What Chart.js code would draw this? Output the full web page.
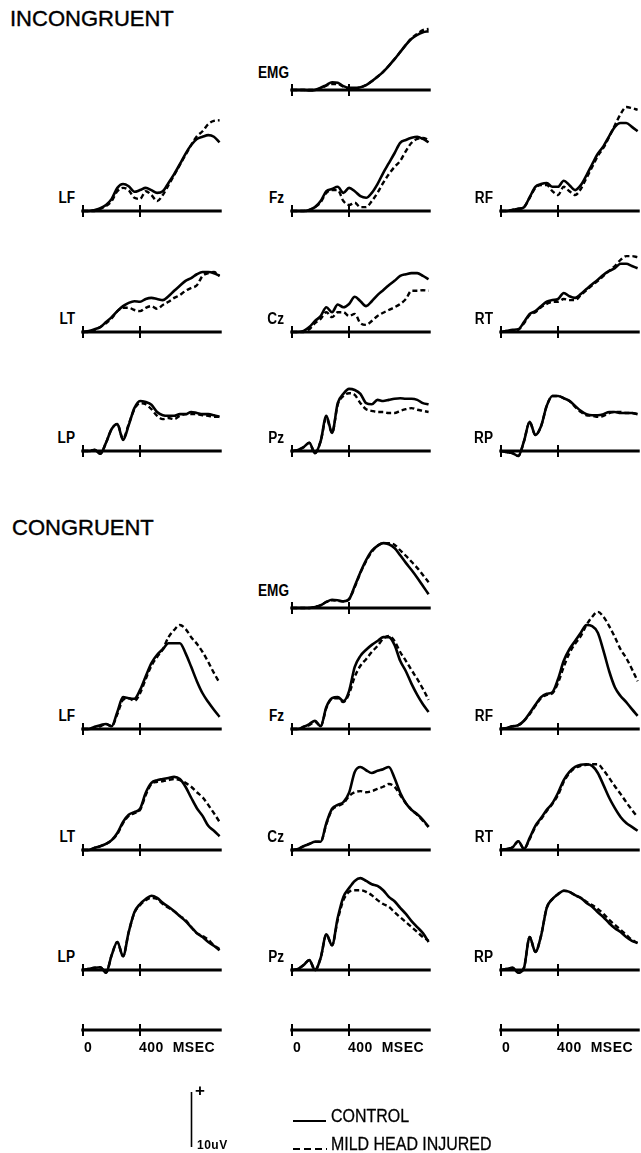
<!DOCTYPE html>
<html>
<head>
<meta charset="utf-8">
<script src="https://cdn.jsdelivr.net/npm/chart.js@4.4.1/dist/chart.umd.min.js"></script>
<style>
    body { margin: 0; background: #fff; }
    #page { position: relative; width: 641px; height: 1153px; overflow: hidden; background: #fff;
            font-family: "Liberation Sans", Arial, sans-serif; color: #000; }
    #page canvas { position: absolute; }
    .title { position: absolute; font-size: 22px; line-height: 22px; white-space: nowrap; -webkit-text-stroke: 0.4px #000; }
    .site { position: absolute; width: 40px; text-align: right; font-weight: bold; font-size: 16px; line-height: 16px;
            transform: scaleX(0.85); transform-origin: right top; white-space: nowrap; }
    .tick { position: absolute; font-weight: bold; font-size: 14px; line-height: 14px; letter-spacing: 0.5px; white-space: pre; }
    .legend { position: absolute; font-size: 19px; line-height: 19px; transform: scaleX(0.84); transform-origin: left top;
              white-space: nowrap; -webkit-text-stroke: 0.3px #000; }
</style>
</head>
<body>
<div id="page"></div>
<script>
// time of each sample, ms after stimulus (shared by every trace)
const timesMs = [0, 40, 80, 120, 160, 200, 240, 280, 320, 360, 400, 440, 480, 520, 560, 600, 640, 680, 720, 760, 800, 840, 880, 920, 960];
const axisTicksMs = [0, 400];
const scaleBarUv = 10;

// INCONGRUENT trials, uV (positive up)
const incEmgControl = [0, 0, 0, -0.1, 0, 0.4, 0.9, 1.4, 1.3, 0.7, 0.4, 0.4, 0.5, 0.9, 1.6, 2.4, 3.3, 4.4, 5.6, 6.9, 8.2, 9.3, 10, 10.5, 10.7];
const incEmgMhi     = [0, 0, 0, 0, 0, 0.3, 0.8, 1.1, 1.1, 0.6, 0.3, 0.3, 0.5, 0.9, 1.6, 2.4, 3.3, 4.4, 5.6, 6.9, 8.2, 9.4, 10.2, 10.9, 11.1];
const incLfControl  = [0, 0, 0.2, 0.5, 1.1, 2.2, 4.2, 4.9, 4.5, 3.5, 3.8, 4.2, 3.8, 3.3, 3.6, 5.1, 6.7, 8.5, 10.4, 12, 13.1, 13.5, 13.8, 13.5, 12.5];
const incLfMhi      = [0, 0, 0, 0.4, 0.9, 1.8, 3.6, 4.2, 3.8, 2.4, 2.2, 3.6, 2.9, 1.8, 2.9, 4.7, 6.5, 8.4, 10.2, 12, 13.6, 14.5, 15.8, 16.4, 16.5];
const incFzControl  = [0, 0, 0, 0.2, 0.7, 1.8, 3.6, 4, 4.4, 3.3, 4.2, 3.6, 2.7, 2.4, 3.3, 4.9, 6.9, 8.7, 10.5, 12.4, 12.9, 13.3, 13.5, 13.1, 12.5];
const incFzMhi      = [0, 0, 0, 0.2, 0.7, 1.6, 3.3, 3.8, 3.8, 1.8, 1.1, 1.5, 0.7, 0.7, 1.8, 3.3, 5.1, 6.7, 8, 9.1, 10.9, 12.4, 13.1, 13.3, 12.9];
const incRfControl  = [0, 0, 0.2, 0.4, 0.7, 2.5, 4.4, 4.9, 5.1, 4.4, 4.4, 5.5, 4.7, 3.8, 4.7, 6.5, 8.5, 10.4, 11.8, 13.6, 15.3, 16, 16, 15.3, 14.5];
const incRfMhi      = [0, 0, 0.2, 0.4, 0.7, 2.4, 4.2, 4.7, 4.7, 3.6, 2.9, 4.4, 3.6, 2.9, 4, 6, 8, 10, 11.5, 13.5, 15.6, 17.6, 18.9, 18.7, 18.4];
const incLtControl  = [0, 0.2, 0.5, 0.9, 1.8, 2.7, 3.8, 4.7, 5.3, 5.6, 5.5, 6, 6.2, 6, 5.8, 6.5, 7.5, 8.4, 9.3, 9.8, 10.5, 10.9, 10.9, 10.7, 10.2];
const incLtMhi      = [0, 0, 0.4, 0.9, 1.6, 2.5, 3.8, 4.4, 4.4, 4, 3.8, 4.4, 4.7, 4.2, 4.9, 5.5, 6.2, 6.7, 7.5, 8, 8.5, 10.2, 10.7, 10.9, 10.2];
const incCzControl  = [0, 0, 0.2, 0.9, 2, 2.9, 4.5, 3.6, 5, 4.5, 5.1, 6.4, 5.6, 4.7, 5.6, 6.7, 7.6, 8.5, 9.3, 10.2, 10.5, 10.7, 10.7, 10.2, 9.6];
const incCzMhi      = [0, 0, 0, 0.5, 1.6, 2.4, 3.6, 2.7, 3.6, 3.6, 2.9, 3.3, 1.6, 1.3, 2, 2.9, 3.5, 4, 4.5, 5.1, 6, 7.5, 7.5, 7.6, 7.5];
const incRtControl  = [0, 0.2, 0.4, 0.5, 1.8, 3.3, 3.8, 4.7, 5.5, 5.8, 6, 7.1, 6.5, 6.2, 6.9, 7.8, 8.7, 9.5, 10.4, 11.1, 11.6, 12.4, 12.4, 12, 11.6];
const incRtMhi      = [0, 0.2, 0.2, 0.4, 1.6, 3.1, 3.6, 4.5, 5.1, 5.5, 5.5, 6, 5.8, 5.8, 6.7, 7.6, 8.5, 9.3, 10.2, 11.1, 12, 13.1, 13.8, 13.8, 13.6];
const incLpControl  = [0, 0, 0.2, -0.5, 1.5, 4, 4.9, 2, 4.7, 7.8, 9.1, 8.9, 8.4, 7.1, 6.5, 6.4, 6.4, 6.7, 6.7, 7.1, 6.9, 6.7, 6.7, 6.5, 6.2];
const incLpMhi      = [0, 0, 0.2, -0.5, 1.5, 4, 4.9, 2.2, 4.9, 7.6, 8.7, 8.5, 7.6, 6.4, 5.8, 6, 5.8, 6.4, 6.7, 6.7, 6.7, 6.5, 6.4, 6.2, 6.2];
const incPzControl  = [0, 0.2, 0.7, 1.5, -0.4, 1.8, 6.4, 3.3, 8.7, 10.4, 11.3, 11.1, 10.4, 8.7, 8.5, 9.3, 9.1, 9.3, 9.5, 9.6, 9.5, 9.5, 9.3, 8.7, 8.5];
const incPzMhi      = [0, 0.2, 0.7, 1.5, -0.4, 1.8, 6, 3.3, 8.4, 10, 10.5, 10.2, 8.7, 7.6, 7.3, 7.1, 7.1, 6.9, 6.9, 7.3, 7.6, 7.8, 7.5, 7.3, 7.1];
const incRpControl  = [0, -0.2, -0.4, -0.9, 1.8, 5.3, 2.9, 4.5, 8.2, 10, 10, 9.6, 9.1, 8.2, 7.3, 6.7, 6.5, 6.5, 6.7, 7.1, 7.1, 6.9, 6.9, 6.9, 6.7];
const incRpMhi      = [0, -0.2, -0.4, -0.9, 1.8, 5.3, 2.9, 4.5, 8.2, 10, 10, 9.6, 9.1, 8, 7.1, 6.5, 6.4, 6.2, 6.4, 6.9, 7.1, 7.1, 6.9, 6.9, 6.7];

// CONGRUENT trials, uV (positive up)
const conEmgControl = [0, 0, 0, 0, 0.2, 0.5, 1.1, 1.5, 1.4, 1.2, 1.6, 4, 6.5, 8.7, 10.4, 11.3, 11.8, 11.6, 10.9, 9.6, 8.2, 6.9, 5.5, 4, 2.5];
const conEmgMhi     = [0, 0, 0, 0, 0.2, 0.5, 1.1, 1.4, 1.3, 1.2, 1.6, 3.8, 6.4, 8.5, 10.2, 11.3, 11.8, 11.8, 11.5, 10.5, 9.5, 8.4, 7.3, 6, 4.7];
const conLfControl  = [0, 0, 0.4, 0.7, 0.9, 0.5, 3.1, 5.8, 5.6, 5.5, 7.1, 9.6, 12, 13.5, 14.5, 15.6, 15.6, 15.6, 13.8, 11.3, 8.7, 6.5, 4.9, 3.5, 2.2];
const conLfMhi      = [0, 0, 0.2, 0.5, 0.9, 0.5, 2.7, 5.3, 5.6, 5.1, 6.5, 9.1, 11.5, 13.1, 14.5, 16.7, 18, 18.9, 18.2, 16.7, 15.5, 14, 12.2, 10.2, 8.4];
const conFzControl  = [0, 0, 0.4, 0.9, 1.5, 0.5, 4, 5.6, 5.8, 5.1, 6.9, 11.3, 13.3, 14.4, 15.3, 16, 16.7, 16.7, 15.3, 12.4, 10.5, 8.2, 6.2, 4.5, 3.1];
const conFzMhi      = [0, 0, 0.4, 0.7, 1.3, 0.5, 3.8, 5.5, 5.6, 4.9, 6.4, 9.5, 11.5, 12.7, 14, 15.1, 16.4, 16.9, 16, 14, 12.4, 10.7, 9.1, 7.3, 5.3];
const conRfControl  = [0, 0.2, 0.5, 0.7, 1.5, 2.9, 4.4, 5.8, 6.4, 6.7, 9.1, 12.4, 14.5, 16, 17.5, 18.9, 18.7, 17.5, 14.2, 10.5, 7.6, 6, 4.9, 3.6, 2.4];
const conRfMhi      = [0, 0.2, 0.5, 0.7, 1.5, 2.7, 4.2, 5.6, 6.2, 6.5, 8.4, 11.3, 13.8, 15.5, 16.9, 18.9, 20.4, 21.3, 20.4, 18.7, 16.7, 14.5, 12.9, 10.9, 8.7];
const conLtControl  = [0, 0, 0.4, 0.7, 1.1, 1.8, 3.1, 5.1, 6.4, 6.9, 7.5, 10.4, 12.2, 12.7, 12.9, 13.1, 13.3, 12.9, 11.5, 9.5, 7.6, 6.2, 4.4, 3.5, 2.5];
const conLtMhi      = [0, 0, 0.4, 0.7, 1.1, 1.8, 2.9, 4.9, 6.2, 6.7, 7.3, 10, 12, 12.4, 12.5, 12.7, 12.9, 12.7, 12.2, 11.5, 10.5, 9.6, 8.2, 6.7, 5.1];
const conCzControl  = [0, 0.2, 0.7, 1.1, 1.5, 1.5, 4.9, 7.5, 8.2, 8.7, 10.4, 14.2, 15.1, 14.5, 14, 14.4, 14.7, 15.1, 13.1, 10.4, 8.5, 7.3, 6.5, 5.5, 4.2];
const conCzMhi      = [0, 0.2, 0.7, 1.1, 1.5, 1.5, 4.7, 7.3, 8, 8.5, 9.8, 10.5, 10.7, 10.5, 10.7, 11.1, 11.5, 12, 11.5, 10, 8.5, 7.3, 6.4, 5.3, 4.2];
const conRtControl  = [0, 0.2, 0.5, 1.6, 0.2, 2.2, 4.4, 5.8, 7.3, 8.5, 10.4, 12.7, 14.2, 15.1, 15.5, 15.6, 15.3, 14, 11.8, 9.5, 7.6, 6, 4.9, 4.2, 3.5];
const conRtMhi      = [0, 0.2, 0.5, 1.6, 0.2, 2, 4.2, 5.6, 7.1, 8.4, 10, 12.4, 14, 14.9, 15.3, 15.5, 15.6, 15.6, 14.5, 13.1, 11.6, 10.2, 8.7, 7.3, 6];
const conLpControl  = [0, 0.2, 0.4, 0.5, -0.5, 2.7, 5.1, 2.5, 6.9, 10.5, 12, 12.9, 13.5, 13.1, 12.2, 11.5, 10.7, 9.8, 8.9, 7.8, 6.7, 6, 5.1, 4.4, 3.6];
const conLpMhi      = [0, 0.2, 0.4, 0.5, -0.5, 2.7, 5.1, 2.5, 6.9, 10.4, 11.8, 12.7, 13.1, 12.9, 12, 11.3, 10.7, 9.8, 9.1, 7.8, 6.7, 6.2, 5.5, 4.5, 3.8];
const conPzControl  = [0, 0.2, 0.9, 1.8, 0, 2.2, 6.5, 4.5, 9.5, 13.3, 14.9, 16.2, 16.7, 16.2, 15.6, 15.3, 14.5, 13.3, 12.5, 11.3, 10.2, 8.9, 7.8, 6.7, 5.1];
const conPzMhi      = [0, 0.2, 0.9, 1.8, 0, 2.2, 6.4, 4.5, 9.1, 12.7, 14.2, 14.5, 14.5, 14.2, 13.6, 12.7, 12, 11.5, 10.5, 9.6, 8.7, 7.8, 6.9, 6, 5.3];
const conRpControl  = [0, 0.2, 0.4, -0.5, 0.4, 6, 3.3, 6.2, 11.3, 12.9, 13.8, 14.4, 14.2, 13.6, 13.1, 12.2, 11.5, 10.5, 9.6, 8.5, 7.6, 6.9, 6, 5.3, 4.9];
const conRpMhi      = [0, 0.2, 0.4, -0.5, 0.4, 6, 3.3, 6.2, 11.3, 12.9, 13.8, 14.4, 14.2, 13.6, 13.1, 12.4, 11.8, 11.1, 10.2, 9.1, 8.2, 7.3, 6.4, 5.5, 4.9];

// page geometry
const colZeroX = [83, 292, 501];          // x of the 0 ms tick in each column
const incBaseY = [90, 211, 332, 451];     // EMG row, frontal, temporal/central, parietal
const conBaseY = [608, 729, 850, 970];
const bottomAxisY = 1030;
const PX_PER_MS = 0.142;
const PX_PER_UV = 5.5;
const X_MIN = -16, X_MAX = 984;
const Y_MIN = -4, Y_MAX = 22;
const AXIS_FROM = -14, AXIS_TO = 975;
const PAD = 6;

const page = document.getElementById('page');

// baseline with crossing ticks at 0 and 400 ms, placed by the chart's own scales
const baselinePlugin = {
    id: 'baseline',
    beforeDatasetsDraw(chart) {
        const { ctx, scales: { x, y } } = chart;
        const yb = y.getPixelForValue(0);
        ctx.save();
        ctx.strokeStyle = '#000';
        ctx.lineWidth = 2.8;
        ctx.beginPath();
        ctx.moveTo(x.getPixelForValue(AXIS_FROM), yb);
        ctx.lineTo(x.getPixelForValue(AXIS_TO), yb);
        ctx.stroke();
        ctx.lineWidth = 2;
        ctx.beginPath();
        axisTicksMs.forEach(t => {
            const px = Math.round(x.getPixelForValue(t));
            ctx.moveTo(px, yb - 6);
            ctx.lineTo(px, yb + 6);
        });
        ctx.stroke();
        ctx.restore();
    }
};

function makePanel(col, baseY, control, mhi) {
    const cv = document.createElement('canvas');
    cv.width = Math.round((X_MAX - X_MIN) * PX_PER_MS) + 2 * PAD;
    cv.height = Math.round((Y_MAX - Y_MIN) * PX_PER_UV) + 2 * PAD;
    cv.style.left = Math.round(colZeroX[col] + X_MIN * PX_PER_MS - PAD) + 'px';
    cv.style.top = Math.round(baseY - Y_MAX * PX_PER_UV - PAD) + 'px';
    page.appendChild(cv);

    const datasets = [];
    if (control) {
        datasets.push({ label: 'CONTROL', data: control.map((v, i) => ({ x: timesMs[i], y: v })),
            borderColor: '#000', borderWidth: 2.6 });
        datasets.push({ label: 'MILD HEAD INJURED', data: mhi.map((v, i) => ({ x: timesMs[i], y: v })),
            borderColor: '#000', borderWidth: 2.4, borderDash: [5, 3] });
    }

    new Chart(cv, {
        type: 'line',
        data: { datasets: datasets },
        options: {
            responsive: false,
            animation: false,
            devicePixelRatio: 1,
            events: [],
            layout: { padding: PAD },
            elements: { point: { radius: 0 }, line: { cubicInterpolationMode: 'monotone', fill: false } },
            plugins: { legend: { display: false }, tooltip: { enabled: false } },
            scales: {
                x: { type: 'linear', min: X_MIN, max: X_MAX, display: false },
                y: { type: 'linear', min: Y_MIN, max: Y_MAX, display: false }
            }
        },
        plugins: [baselinePlugin]
    });
}

function addText(cls, text, left, top) {
    const d = document.createElement('div');
    d.className = cls;
    d.textContent = text;
    d.style.left = left + 'px';
    d.style.top = top + 'px';
    page.appendChild(d);
    return d;
}

function addSite(label, col, baseY) {
    if (label === 'EMG') {
        addText('site', label, colZeroX[col] - 3 - 40, baseY - 25);
    } else {
        addText('site', label, colZeroX[col] - 8 - 40, baseY - 21);
    }
}

const incPanels = [
    ['EMG', 1, 0, incEmgControl, incEmgMhi],
    ['LF', 0, 1, incLfControl, incLfMhi], ['Fz', 1, 1, incFzControl, incFzMhi], ['RF', 2, 1, incRfControl, incRfMhi],
    ['LT', 0, 2, incLtControl, incLtMhi], ['Cz', 1, 2, incCzControl, incCzMhi], ['RT', 2, 2, incRtControl, incRtMhi],
    ['LP', 0, 3, incLpControl, incLpMhi], ['Pz', 1, 3, incPzControl, incPzMhi], ['RP', 2, 3, incRpControl, incRpMhi]
];
const conPanels = [
    ['EMG', 1, 0, conEmgControl, conEmgMhi],
    ['LF', 0, 1, conLfControl, conLfMhi], ['Fz', 1, 1, conFzControl, conFzMhi], ['RF', 2, 1, conRfControl, conRfMhi],
    ['LT', 0, 2, conLtControl, conLtMhi], ['Cz', 1, 2, conCzControl, conCzMhi], ['RT', 2, 2, conRtControl, conRtMhi],
    ['LP', 0, 3, conLpControl, conLpMhi], ['Pz', 1, 3, conPzControl, conPzMhi], ['RP', 2, 3, conRpControl, conRpMhi]
];

addText('title', 'INCONGRUENT', 10, 8);
addText('title', 'CONGRUENT', 12, 517);

incPanels.forEach(([label, col, row, c, m]) => {
    addSite(label, col, incBaseY[row]);
    makePanel(col, incBaseY[row], c, m);
});
conPanels.forEach(([label, col, row, c, m]) => {
    addSite(label, col, conBaseY[row]);
    makePanel(col, conBaseY[row], c, m);
});

// time axes under each column
colZeroX.forEach((x0, col) => {
    makePanel(col, bottomAxisY, null, null);
    addText('tick', String(axisTicksMs[0]), x0 + 1, bottomAxisY + 10);
    addText('tick', axisTicksMs[1] + '  MSEC', x0 + 56, bottomAxisY + 10);
});

// 10 uV calibration bar, drawn on its own y scale
(function makeScaleBar() {
    const cv = document.createElement('canvas');
    cv.width = 12;
    cv.height = Math.round(scaleBarUv * PX_PER_UV) + 2 * PAD;
    cv.style.left = (191 - PAD) + 'px';
    cv.style.top = (1147 - scaleBarUv * PX_PER_UV - PAD) + 'px';
    page.appendChild(cv);
    new Chart(cv, {
        type: 'line',
        data: { datasets: [] },
        options: {
            responsive: false, animation: false, devicePixelRatio: 1, events: [],
            layout: { padding: PAD },
            plugins: { legend: { display: false }, tooltip: { enabled: false } },
            scales: {
                x: { type: 'linear', min: 0, max: 1, display: false },
                y: { type: 'linear', min: 0, max: scaleBarUv, display: false }
            }
        },
        plugins: [{
            id: 'bar',
            afterDraw(chart) {
                const { ctx, scales: { x, y } } = chart;
                const px = Math.round(x.getPixelForValue(0)) + 0.5;
                ctx.save();
                ctx.strokeStyle = '#000';
                ctx.lineWidth = 1.6;
                ctx.beginPath();
                ctx.moveTo(px, y.getPixelForValue(0));
                ctx.lineTo(px, y.getPixelForValue(scaleBarUv));
                ctx.stroke();
                ctx.restore();
            }
        }]
    });
})();
const plus = addText('tick', '+', 195, 1084);
plus.style.fontSize = '17px';
const uv = addText('tick', scaleBarUv + 'uV', 197, 1138);
uv.style.fontSize = '12px';

// legend
const solid = document.createElement('div');
solid.style.cssText = 'position:absolute;left:293px;top:1120px;width:33px;border-top:2px solid #000;';
page.appendChild(solid);
const dashed = document.createElementNS('http://www.w3.org/2000/svg', 'svg');
dashed.setAttribute('width', '34');
dashed.setAttribute('height', '4');
dashed.style.cssText = 'position:absolute;left:293px;top:1147px;';
dashed.innerHTML = '<line x1="0" y1="2" x2="34" y2="2" stroke="#000" stroke-width="2.2" stroke-dasharray="7 4"/>';
page.appendChild(dashed);
addText('legend', 'CONTROL', 331, 1106);
addText('legend', 'MILD HEAD INJURED', 331, 1134);
</script>
</body>
</html>
